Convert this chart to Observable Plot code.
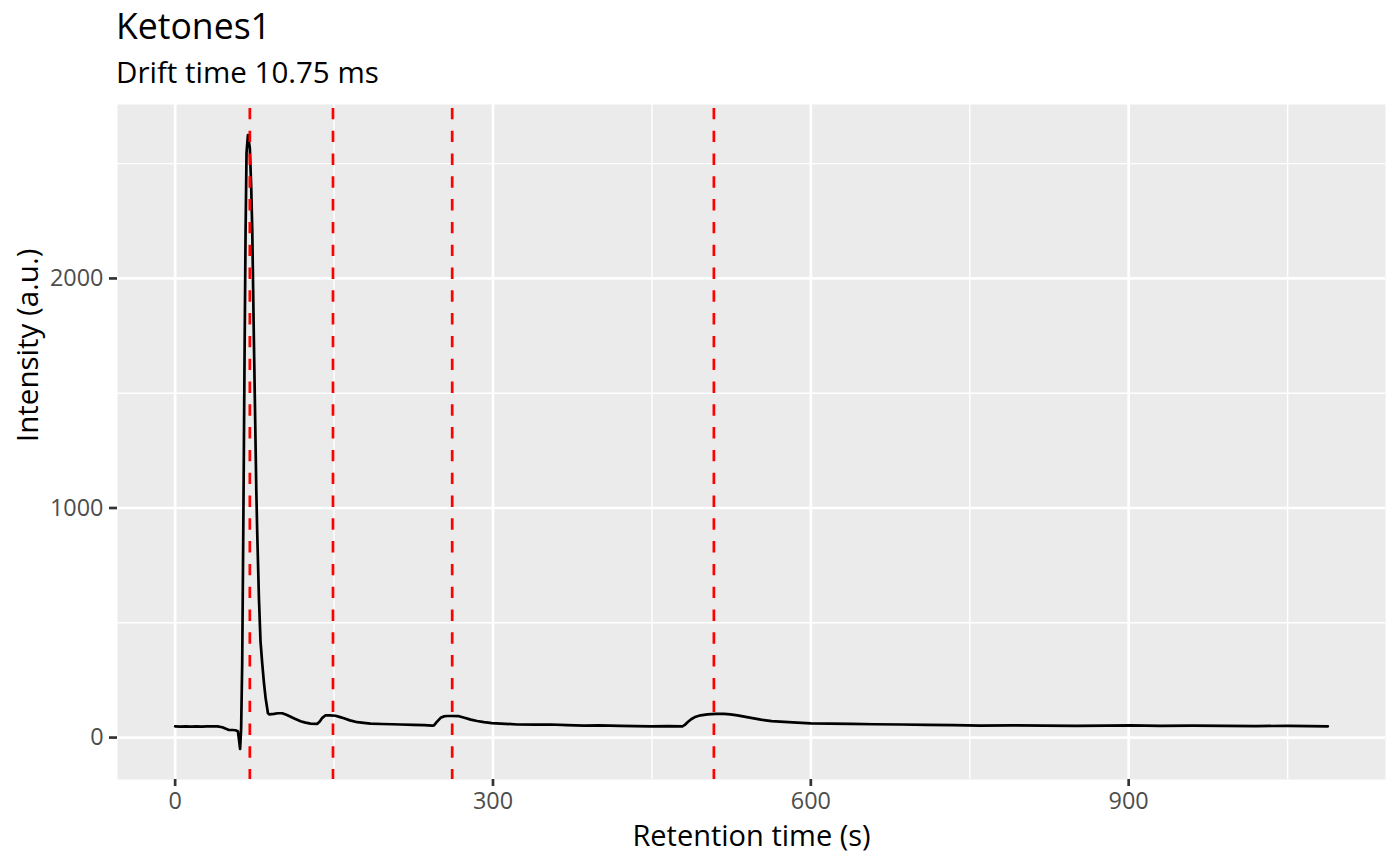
<!DOCTYPE html>
<html>
<head>
<meta charset="utf-8">
<script src="https://cdn.jsdelivr.net/npm/d3@7"></script>
<script src="https://cdn.jsdelivr.net/npm/@observablehq/plot@0.6"></script>
<style>
  html, body { margin: 0; padding: 0; background: white; overflow: hidden; }
  #header { position: relative; width: 1400px; height: 95px; font-family: "Open Sans", sans-serif; color: black; }
  #title { position: absolute; left: 116px; top: 8.4px; font-size: 35.6px; line-height: 1; white-space: nowrap; }
  #subtitle { position: absolute; left: 116px; top: 56.5px; font-size: 29.5px; line-height: 1; white-space: nowrap; }
</style>
</head>
<body>
<div id="header"><div id="title">Ketones1</div><div id="subtitle">Drift time 10.75 ms</div></div>
<div id="chart"></div>
<script>
// Retention time (s)
const time = [0, 5, 10, 15, 20, 25, 30, 35, 40, 44.5, 48, 50.7, 54, 57, 59.2, 60.3, 61.3, 62.3, 63.3, 64.3,
  64.9, 65.5, 66.5, 67.4, 68.7, 70.5, 71.8, 72.8, 74.3, 75.3, 76.6, 77.5, 79.1, 80.6, 82.2, 83.8, 85.4, 87.6, 89, 93.2,
  97, 101.1, 105, 109, 113, 118.4, 123, 127.8, 134.2, 136.5, 138.9, 142, 146, 151.4, 155, 159.3, 165, 172, 178, 184.5,
  195, 205, 212.8, 225, 235, 242.8, 244.3, 247, 250.6, 253.5, 257, 262, 267.9, 273, 279, 285, 291.5, 299, 307.3, 323,
  340, 354.5, 370, 386, 400, 420, 449, 465, 478.8, 481, 483.6, 487, 491.4, 496, 502.5, 510, 518.1, 524, 530.8, 541,
  552.8, 563, 574.8, 587, 600, 618, 637.8, 660, 685, 710, 735, 760, 790, 820, 850, 880, 902, 930, 960, 990,
  1020, 1050, 1070, 1088];
// Intensity (a.u.)
const intensity = [49, 48, 49, 48, 49, 48, 49, 49, 49, 45, 38, 33, 33, 32, 28, -10, -49, 40, 323, 889,
  1267, 1644, 2210, 2549, 2624, 2568, 2398, 2210, 1739, 1455, 1078, 889, 606, 418, 323, 239, 172, 106, 101, 103,
  106, 106, 99, 91, 82, 71, 65, 61, 60, 70, 86, 97, 97, 95, 90, 84, 75, 67, 64, 61,
  59, 58, 57, 55, 54, 52, 53, 68, 86, 92, 94, 94, 93, 86, 78, 72, 67, 63, 61, 57,
  56, 57, 54, 52, 53, 51, 49, 50, 49, 55, 67, 80, 91, 97, 101, 103, 103, 101, 97, 88,
  78, 72, 68, 65, 62, 61, 60, 58, 57, 55, 54, 52, 53, 52, 51, 52, 53, 51, 52, 51,
  50, 51, 50, 49];
// Marked peak positions (s)
const peaks = [70.5, 149, 261.5, 508.5];
// Tick values
const xMajor = [0, 300, 600, 900];
const xMinor = [150, 450, 750, 1050];
const yMajor = [0, 1000, 2000];
const yMinor = [500, 1500, 2500];

const data = time.map((t, i) => ({t, v: intensity[i]}));

function expand(ext, f = 0.05) {
  const w = ext[1] - ext[0];
  return [ext[0] - w * f, ext[1] + w * f];
}
const xDomain = expand(d3.extent(time));
const yDomain = expand(d3.extent(intensity));

const chart = Plot.plot({
  width: 1400,
  height: 770,
  marginTop: 9,
  marginBottom: 86,
  marginLeft: 117,
  marginRight: 15,
  style: {fontFamily: "Open Sans", background: "white", color: "black"},
  x: {domain: xDomain},
  y: {domain: yDomain},
  marks: [
    Plot.frame({fill: "#EBEBEB", stroke: "none"}),
    Plot.gridX(xMinor, {stroke: "white", strokeOpacity: 1, strokeWidth: 1.4}),
    Plot.gridY(yMinor, {stroke: "white", strokeOpacity: 1, strokeWidth: 1.4}),
    Plot.gridX(xMajor, {stroke: "white", strokeOpacity: 1, strokeWidth: 2.7}),
    Plot.gridY(yMajor, {stroke: "white", strokeOpacity: 1, strokeWidth: 2.7}),
    Plot.line(data, {x: "t", y: "v", stroke: "black", strokeWidth: 2.7}),
    Plot.ruleX(peaks, {stroke: "red", strokeWidth: 2.7, strokeDasharray: "11.4,11.4", strokeDashoffset: 18.9}),
    Plot.axisX(xMajor, {tickSize: 7, tickPadding: 6, stroke: "#333333", strokeWidth: 2.7, fill: "#4D4D4D", fontSize: 23.4, label: null, tickFormat: d => String(d)}),
    Plot.axisY(yMajor, {tickSize: 8, tickPadding: 6, stroke: "#333333", strokeWidth: 2.7, fill: "#4D4D4D", fontSize: 23.4, label: null, tickFormat: d => String(d)}),
    Plot.text(["Retention time (s)"], {text: d => d, frameAnchor: "bottom", dy: 66, lineAnchor: "bottom", fontSize: 29, fill: "black"}),
    Plot.text(["Intensity (a.u.)"], {text: d => d, frameAnchor: "left", dx: -80, rotate: -90, lineAnchor: "bottom", fontSize: 29.5, fill: "black"})
  ]
});
document.getElementById("chart").appendChild(chart);
</script>
</body>
</html>
